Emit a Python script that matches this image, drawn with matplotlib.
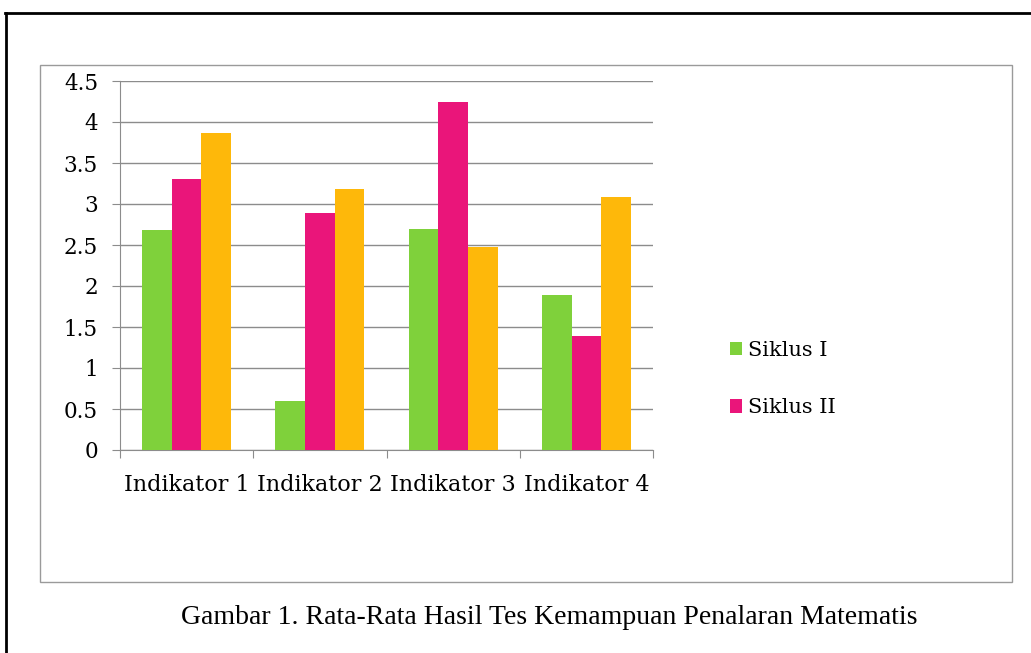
import matplotlib.pyplot as plt
from matplotlib.patches import Rectangle, Patch
from matplotlib.lines import Line2D
import numpy as np

categories = ['Indikator 1', 'Indikator 2', 'Indikator 3', 'Indikator 4']
siklus_1 = [2.68, 0.60, 2.70, 1.89]
siklus_2 = [3.30, 2.89, 4.24, 1.39]
siklus_3 = [3.87, 3.18, 2.47, 3.09]
legend_labels = ['Siklus I', 'Siklus II']
y_ticks = [0, 0.5, 1, 1.5, 2, 2.5, 3, 3.5, 4, 4.5]
y_tick_labels = ['0', '0.5', '1', '1.5', '2', '2.5', '3', '3.5', '4', '4.5']
caption = 'Gambar 1. Rata-Rata Hasil Tes Kemampuan Penalaran Matematis'

colors = ['#7fd13b', '#ea157a', '#feb80a']  # green, pink, orange
grid_col = '#8c8c8c'
W, H = 1031, 653

fig = plt.figure(figsize=(W / 100, H / 100), dpi=100)

# outer black frame (top + left only, rest is cut off)
fig.add_artist(Line2D([5 / W, 1], [1 - 13 / H, 1 - 13 / H], color='black', lw=2, transform=fig.transFigure))
fig.add_artist(Line2D([6 / W, 6 / W], [0, 1 - 13 / H], color='black', lw=2, transform=fig.transFigure))
# inner chart box
fig.add_artist(Rectangle((40 / W, 1 - 582 / H), (1012 - 40) / W, (582 - 65) / H,
                         fill=False, edgecolor='#9a9a9a', lw=1, transform=fig.transFigure))

ax = fig.add_axes([120 / W, 1 - 450 / H, (653 - 120) / W, (450 - 81) / H])

x = np.arange(len(categories))
bw = 1 / 4.5
for i, vals in enumerate([siklus_1, siklus_2, siklus_3]):
    ax.bar(x + (i - 1) * bw, vals, width=bw, color=colors[i], zorder=3)

ax.set_xlim(-0.5, len(categories) - 0.5)
ax.set_ylim(0, 4.5)
ax.set_yticks(y_ticks)
ax.set_yticklabels(y_tick_labels, family='DejaVu Serif', fontsize=15.5)
ax.yaxis.grid(True, color=grid_col, lw=1, zorder=0)
ax.tick_params(axis='y', length=5.8, color=grid_col, pad=10)

ax.set_xticks(np.arange(len(categories) + 1) - 0.5)
ax.set_xticklabels([])
ax.set_xticks(x, minor=True)
ax.set_xticklabels(categories, minor=True, family='DejaVu Serif', fontsize=16)
ax.tick_params(axis='x', which='major', length=6, color=grid_col)
ax.tick_params(axis='x', which='minor', length=0, pad=17)

for s in ['top', 'right']:
    ax.spines[s].set_visible(False)
for s in ['left', 'bottom']:
    ax.spines[s].set_color(grid_col)

handles = [Patch(facecolor=colors[0]), Patch(facecolor=colors[1])]
fig.legend(handles, legend_labels, loc='center left', bbox_to_anchor=(711 / W, 1 - 379 / H),
           frameon=False, prop={'family': 'DejaVu Serif', 'size': 15},
           handlelength=0.6, handleheight=0.6, handletextpad=0.3, labelspacing=1.85)

fig.text(549 / W, 1 - 617 / H, caption, ha='center', va='center',
         family='Liberation Serif', fontsize=20)

fig.savefig('out.png', dpi=100)
